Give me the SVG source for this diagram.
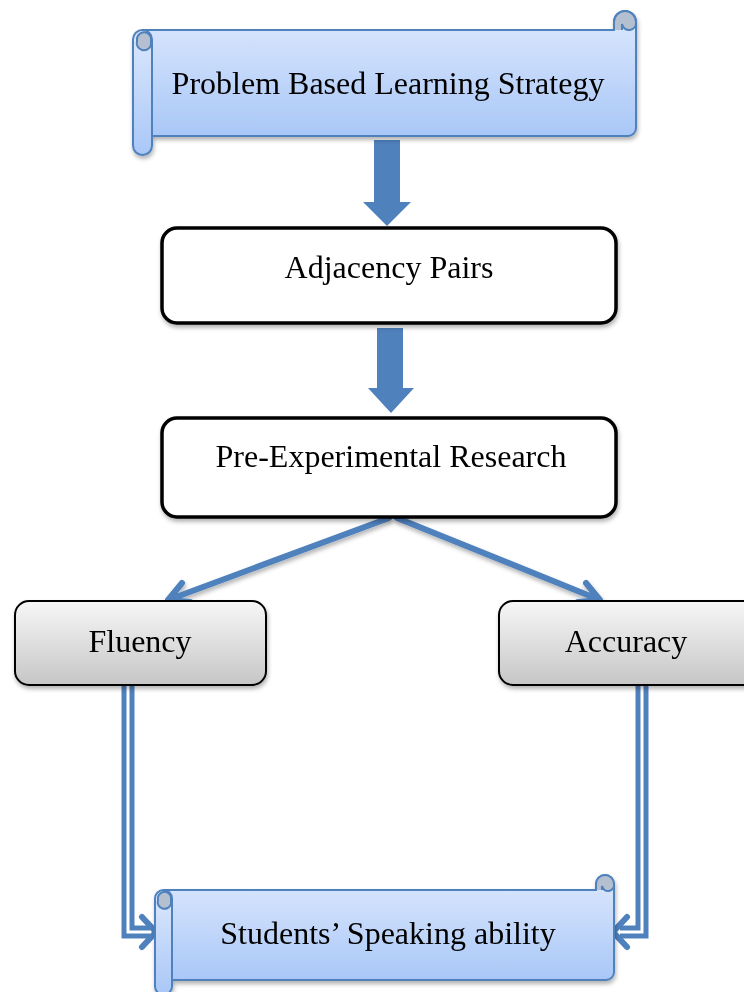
<svg xmlns="http://www.w3.org/2000/svg" width="744" height="992" viewBox="0 0 744 992">
<defs>
<linearGradient id="blueG" x1="0" y1="0" x2="0" y2="1">
<stop offset="0" stop-color="#dce8fd"/>
<stop offset="1" stop-color="#a9c7f7"/>
</linearGradient>
<linearGradient id="grayG" x1="0" y1="0" x2="0" y2="1">
<stop offset="0" stop-color="#f7f7f7"/>
<stop offset="1" stop-color="#c6c6c6"/>
</linearGradient>
<filter id="sh" x="-10%" y="-10%" width="120%" height="130%">
<feDropShadow dx="1" dy="3" stdDeviation="2" flood-color="#000" flood-opacity="0.3"/>
</filter>
</defs>
<style>
.t{font-family:"Liberation Serif","Times New Roman",serif;font-size:32px;fill:#000;text-anchor:middle}
.scroll{fill:url(#blueG);stroke:#4f81bd;stroke-width:2}
.curl{fill:#b4bfcf;stroke:#4f81bd;stroke-width:2}
.box{fill:#fff;stroke:#000;stroke-width:3.5}
.gbox{fill:url(#grayG);stroke:#000;stroke-width:2}
.blk{fill:#4f81bd}
.ln{fill:none;stroke:#4f81bd;stroke-width:6;stroke-linecap:round;stroke-linejoin:round}
.dbl{fill:none;stroke:#4f81bd;stroke-width:13}
.dblw{fill:none;stroke:#fff;stroke-width:3}
</style>

<g id="connectors">
<polygon class="blk" points="374,140 400,140 400,202 411,202 387,226 363,202 374,202"/>
<polygon class="blk" points="377,328 403,328 403,388 414,388 391,413 368,388 377,388"/>
<g filter="url(#sh)">
<path class="ln" d="M389 518 L168 600 M168 600 L182 583 M168 600 L190 602"/>
<path class="ln" d="M397 518 L600 600 M600 600 L586 583 M600 600 L578 602"/>
</g>
<path class="dbl" d="M128 686 L128 932 L150 932"/>
<path class="dblw" d="M128 686 L128 932 L150 932"/>
<path class="ln" d="M142 917 L156 932 L142 947"/>
<path class="dbl" d="M642 686 L642 932 L620 932"/>
<path class="dblw" d="M642 686 L642 932 L620 932"/>
<path class="ln" d="M627 917 L613 932 L627 947"/>
</g>

<g id="n1" filter="url(#sh)">
<path class="scroll" d="M143 30 L614 30 L614 22 A11 11 0 0 1 636 22 L636 128 A8 8 0 0 1 628 136 L143 136 Z"/>
<path class="curl" d="M614 30 L614 22 A11 11 0 0 1 636 22 A7 7 0 0 1 622 24 L622 30"/>
<rect class="scroll" x="133" y="30" width="19" height="125" rx="9.5"/>
<path class="curl" d="M137 41 A7 7 0 0 1 151 38 L151 45 A7 7 0 0 1 137 41 Z"/>
<text class="t" x="388" y="94">Problem Based Learning Strategy</text>
</g>

<g id="n2" filter="url(#sh)">
<rect class="box" x="162" y="228" width="454" height="95" rx="15"/>
<text class="t" x="389" y="278">Adjacency Pairs</text>
</g>

<g id="n3" filter="url(#sh)">
<rect class="box" x="162" y="418" width="454" height="99" rx="15"/>
<text class="t" x="391" y="467">Pre-Experimental Research</text>
</g>

<g id="n4" filter="url(#sh)">
<rect class="gbox" x="15" y="601" width="251" height="84" rx="14"/>
<text class="t" x="140" y="652">Fluency</text>
</g>

<g id="n5" filter="url(#sh)">
<rect class="gbox" x="499" y="601" width="260" height="84" rx="14"/>
<text class="t" x="626" y="652">Accuracy</text>
</g>

<g id="n6" filter="url(#sh)">
<path class="scroll" d="M165 890 L596 890 L596 884 A9 9 0 0 1 614 884 L614 972 A8 8 0 0 1 606 980 L165 980 Z"/>
<path class="curl" d="M596 890 L596 884 A9 9 0 0 1 614 884 A6 6 0 0 1 602 886 L602 890"/>
<rect class="scroll" x="155" y="890" width="17" height="105" rx="8.5"/>
<path class="curl" d="M158 900 A6 6 0 0 1 171 897 L171 904 A6 6 0 0 1 158 900 Z"/>
<text class="t" x="388" y="944">Students’ Speaking ability</text>
</g>
</svg>
